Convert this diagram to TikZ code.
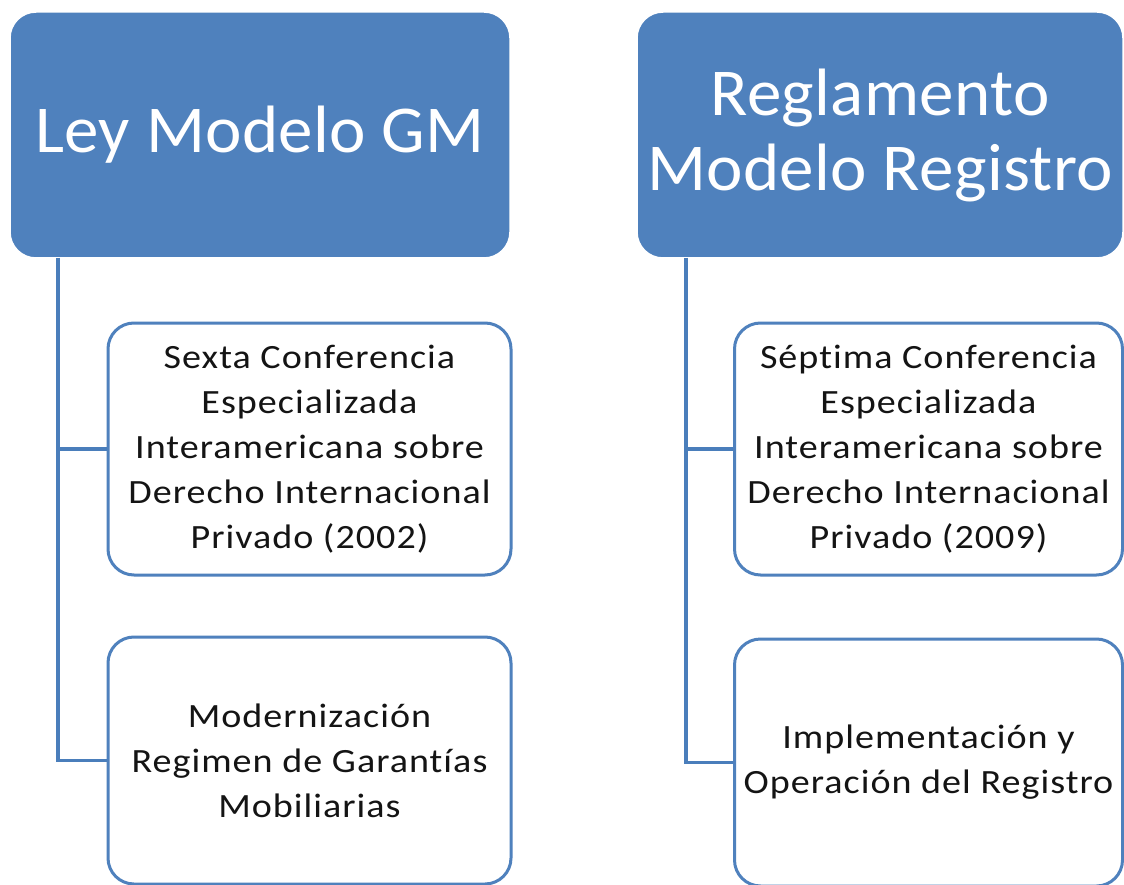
\documentclass[tikz,border=0pt]{standalone}
\usepackage{fontspec}
\setmainfont{Carlito}[Ligatures=NoCommon]
\definecolor{hdrblue}{HTML}{4F81BD}
\definecolor{linkblue}{HTML}{4A7EBB}
\tikzset{
  hdrbox/.style={rectangle, rounded corners=26pt, fill=hdrblue, draw=white, line width=1.5pt,
    inner sep=0pt, text=white, align=center,
    font=\fontsize{67}{75}\selectfont\addfontfeatures{FakeStretch=1.03,LetterSpace=0.5}},
  childbox/.style={rectangle, rounded corners=26pt, fill=white, draw=hdrblue, line width=3pt,
    inner sep=0pt, text=black!92, align=center,
    font=\fontsize{34}{45}\selectfont\addfontfeatures{FakeStretch=1.12,LetterSpace=3},
    minimum width=403pt, minimum height=252pt},
  link/.style={draw=linkblue, line width=3.2pt}
}
\begin{document}
\begin{tikzpicture}[x=1pt,y=-1pt]
\useasboundingbox[fill=white] (0,0) rectangle (1124,885);
% headers
\node[hdrbox, minimum width=500pt, minimum height=246pt] (hl) at (260,135) {Ley Modelo GM};
\node[hdrbox, minimum width=486pt, minimum height=246pt] (hr) at (880,135) {Reglamento\\Modelo Registro};
% children left
\node[childbox] (l1) at (309.5,449) {Sexta Conferencia\\Especializada\\Interamericana sobre\\Derecho Internacional\\Privado (2002)};
\node[childbox, minimum height=247pt] (l2) at (309.5,760.5) {Modernización\\Regimen de Garantías\\Mobiliarias};
% children right
\node[childbox, minimum width=388pt] (r1) at (928.5,449) {Séptima Conferencia\\Especializada\\Interamericana sobre\\Derecho Internacional\\Privado (2009)};
\node[childbox, minimum width=388pt, minimum height=247pt] (r2) at (928.5,762.5) {Implementación y\\Operación del Registro};
% connectors
\coordinate (tl) at (58,258);
\coordinate (tr) at (686,258);
\draw[link] (tl) |- (l1.west);
\draw[link] (tl) |- (l2.west);
\draw[link] (tr) |- (r1.west);
\draw[link] (tr) |- (r2.west);
\end{tikzpicture}
\end{document}
